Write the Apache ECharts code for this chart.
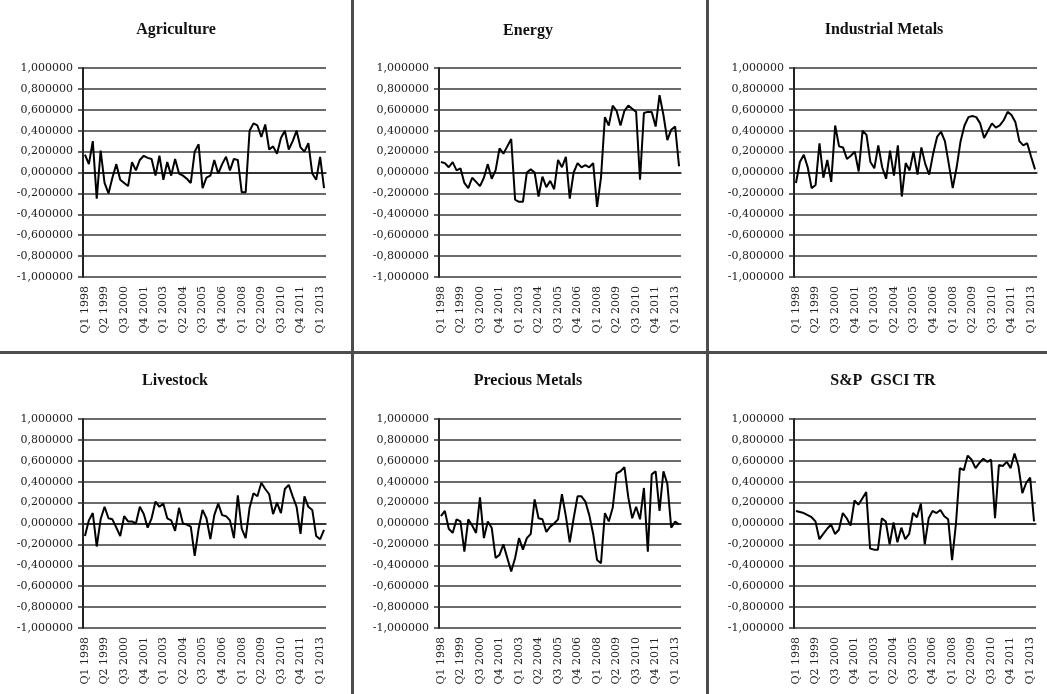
<!DOCTYPE html>
<html>
<head>
<meta charset="utf-8">
<script src="https://cdn.jsdelivr.net/npm/echarts@6/dist/echarts.min.js"></script>
<style>html,body{margin:0;background:#fff}#chart{width:1047px;height:694px}</style>
</head>
<body>
<div id="chart"></div>
<script>
// quarterly categories, Q1 1998 .. Q2 2013
var quarters = [];
for (var yr = 1998; yr <= 2013; yr++) {
    for (var q = 1; q <= 4; q++) quarters.push('Q' + q + ' ' + yr);
}
quarters = quarters.slice(0, 62);

var agriculture = [0.17,0.08,0.30,-0.25,0.21,-0.10,-0.20,-0.05,0.08,-0.07,
    -0.10,-0.13,0.10,0.02,0.12,0.16,0.14,0.13,-0.03,0.16,
    -0.07,0.10,-0.03,0.13,-0.01,-0.03,-0.06,-0.10,0.20,0.27,
    -0.15,-0.05,-0.03,0.12,-0.01,0.08,0.15,0.02,0.13,0.12,
    -0.19,-0.19,0.40,0.47,0.45,0.34,0.46,0.22,0.25,0.18,
    0.33,0.40,0.22,0.30,0.40,0.24,0.20,0.28,-0.01,-0.07,
    0.15,-0.15];
var energy = [0.10,0.09,0.05,0.10,0.02,0.04,-0.10,-0.15,-0.05,-0.09,
    -0.13,-0.05,0.08,-0.06,0.02,0.23,0.18,0.25,0.32,-0.26,
    -0.28,-0.28,0.00,0.03,0.00,-0.23,-0.04,-0.14,-0.08,-0.16,
    0.12,0.05,0.15,-0.25,0.00,0.09,0.05,0.07,0.05,0.09,
    -0.33,-0.05,0.53,0.45,0.64,0.59,0.45,0.59,0.64,0.61,
    0.58,-0.07,0.57,0.58,0.58,0.44,0.74,0.55,0.31,0.41,
    0.44,0.06];
var industrialMetals = [-0.10,0.10,0.17,0.05,-0.15,-0.12,0.28,-0.05,0.12,-0.09,
    0.45,0.25,0.24,0.13,0.16,0.20,0.01,0.40,0.36,0.10,
    0.04,0.26,0.05,-0.06,0.21,-0.03,0.26,-0.23,0.09,0.02,
    0.20,-0.02,0.24,0.08,-0.02,0.18,0.34,0.39,0.30,0.08,
    -0.15,0.05,0.30,0.45,0.53,0.54,0.53,0.47,0.33,0.40,
    0.47,0.43,0.45,0.50,0.58,0.55,0.48,0.30,0.26,0.28,
    0.15,0.03];
var livestock = [-0.12,0.03,0.10,-0.22,0.04,0.16,0.05,0.04,-0.04,-0.12,
    0.07,0.02,0.02,0.00,0.16,0.09,-0.04,0.05,0.21,0.16,
    0.19,0.05,0.03,-0.07,0.15,0.00,-0.01,-0.03,-0.31,-0.05,
    0.13,0.05,-0.15,0.08,0.19,0.08,0.07,0.03,-0.14,0.27,
    -0.05,-0.14,0.15,0.29,0.26,0.39,0.33,0.28,0.09,0.20,
    0.10,0.33,0.37,0.26,0.16,-0.10,0.26,0.16,0.13,-0.12,
    -0.15,-0.06];
var preciousMetals = [0.07,0.12,-0.05,-0.09,0.04,0.02,-0.27,0.04,-0.02,-0.09,
    0.25,-0.14,0.02,-0.04,-0.33,-0.30,-0.20,-0.33,-0.46,-0.33,
    -0.14,-0.25,-0.14,-0.10,0.23,0.05,0.04,-0.08,-0.03,0.00,
    0.04,0.28,0.07,-0.18,0.05,0.26,0.26,0.21,0.08,-0.10,
    -0.35,-0.38,0.10,0.02,0.15,0.48,0.50,0.54,0.25,0.05,
    0.16,0.04,0.34,-0.27,0.47,0.50,0.12,0.50,0.38,-0.04,
    0.02,-0.01];
var gsciTR = [0.12,0.11,0.10,0.08,0.06,0.02,-0.15,-0.10,-0.05,-0.01,
    -0.10,-0.06,0.10,0.05,-0.02,0.22,0.18,0.24,0.30,-0.24,
    -0.25,-0.25,0.05,0.02,-0.20,0.01,-0.18,-0.04,-0.15,-0.10,
    0.10,0.06,0.19,-0.20,0.05,0.12,0.10,0.13,0.07,0.04,
    -0.35,0.00,0.53,0.51,0.65,0.61,0.53,0.58,0.62,0.59,
    0.61,0.05,0.56,0.55,0.59,0.53,0.67,0.55,0.29,0.39,
    0.44,0.02];

var names = ['Agriculture', 'Energy', 'Industrial Metals', 'Livestock', 'Precious Metals', 'S&P  GSCI TR'];
var values = [agriculture, energy, industrialMetals, livestock, preciousMetals, gsciTR];

// panel placement: plot box and title centre
var boxes = [
    {left: 83,  top: 68,  width: 243, cx: 176, ty: 22},
    {left: 439, top: 68,  width: 242, cx: 528, ty: 23},
    {left: 794, top: 68,  width: 243, cx: 884, ty: 22},
    {left: 83,  top: 419, width: 243, cx: 175, ty: 373},
    {left: 439, top: 419, width: 242, cx: 528, ty: 373},
    {left: 794, top: 419, width: 242, cx: 883, ty: 373}
];

var labelFont = 'DejaVu Serif';
function fmt(v) {
    if (Math.abs(v) < 1e-9) v = 0;
    return v.toFixed(6).replace('.', ',');
}

var grids = [], xAxes = [], yAxes = [], series = [], titles = [];
boxes.forEach(function (b, k) {
    grids.push({left: b.left, top: b.top, width: b.width, height: 209});
    titles.push({
        text: names[k], left: b.cx, top: b.ty, textAlign: 'center', padding: 0,
        textStyle: {fontFamily: 'Liberation Serif', fontWeight: 'bold', fontSize: 16, color: '#111'}
    });
    // axis crossing at zero, with a tick per quarter
    xAxes.push({
        type: 'category', gridIndex: k, data: quarters,
        axisLine: {onZero: true, lineStyle: {color: '#222', width: 1.5}},
        axisTick: {interval: 0, length: 3, lineStyle: {color: '#222', width: 1}},
        axisLabel: {show: false}, splitLine: {show: false}
    });
    // labels sit below the plot
    xAxes.push({
        type: 'category', gridIndex: k, data: quarters, position: 'bottom',
        axisLine: {show: false, onZero: false}, axisTick: {show: false},
        axisLabel: {interval: 4, rotate: 90, margin: 9, fontFamily: labelFont, fontSize: 11, color: '#222'}
    });
    yAxes.push({
        type: 'value', gridIndex: k, min: -1, max: 1, interval: 0.2,
        axisLine: {show: true, lineStyle: {color: '#222', width: 2}},
        axisTick: {show: true, length: 5, lineStyle: {color: '#333', width: 1.5}},
        axisLabel: {margin: 10, formatter: fmt, fontFamily: labelFont, fontSize: 11, color: '#222'},
        splitLine: {lineStyle: {color: '#3a3a3a', width: 1.5}}
    });
    series.push({
        type: 'line', xAxisIndex: 2 * k, yAxisIndex: k, data: values[k],
        symbol: 'none', lineStyle: {color: '#000', width: 2}
    });
});

var chart = echarts.init(document.getElementById('chart'));
chart.setOption({
    animation: false,
    title: titles,
    grid: grids,
    xAxis: xAxes,
    yAxis: yAxes,
    series: series,
    graphic: [
        {type: 'rect', shape: {x: 351, y: 0, width: 3, height: 694}, style: {fill: '#4d4d4d'}},
        {type: 'rect', shape: {x: 706, y: 0, width: 3, height: 694}, style: {fill: '#4d4d4d'}},
        {type: 'rect', shape: {x: 0, y: 351, width: 1047, height: 3}, style: {fill: '#4d4d4d'}}
    ]
});
window.addEventListener('resize', chart.resize);
</script>
</body>
</html>
